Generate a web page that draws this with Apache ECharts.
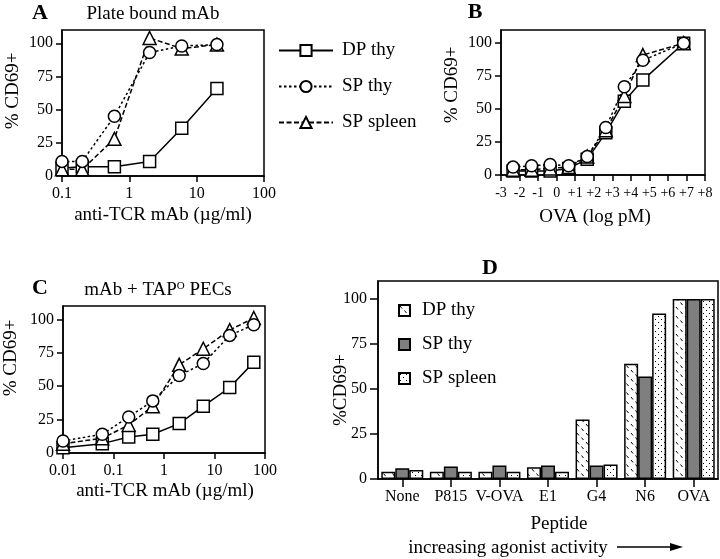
<!DOCTYPE html>
<html>
<head>
<meta charset="utf-8">
<script src="https://cdn.jsdelivr.net/npm/echarts@6/dist/echarts.min.js"></script>
<style>
html, body { margin: 0; padding: 0; background: #fff; }
#chart { width: 720px; height: 559px; }
</style>
</head>
<body>
<div id="chart"></div>
<script>
// A: plate bound mAb (ug/ml, log axis)
var aDose = [0.1, 0.2, 0.6, 2, 6, 20];
var aDPthy = [6, 7, 7, 11, 36, 66];
var aSPthy = [11, 11, 45, 93, 98, 99];
var aSPspleen = [5, 5, 28, 104, 96, 99];

// B: OVA (log pM)
var bLogOva = [-2.35, -1.35, -0.35, 0.65, 1.65, 2.65, 3.65, 4.65, 6.85];
var bDPthy = [3, 3, 3, 5, 12, 32, 56, 72, 100];
var bSPthy = [6, 7, 8, 7, 14, 36, 67, 87, 100];
var bSPspleen = [4, 4, 5, 6, 14, 34, 60, 91, 100];

// C: mAb + TAPo PECs
var cDose = [0.01, 0.06, 0.2, 0.6, 2, 6, 20, 60];
var cDPthy = [4, 7, 12, 14, 22, 35, 49, 68];
var cSPthy = [9, 14, 27, 39, 58, 67, 88, 96];
var cSPspleen = [7, 11, 21, 35, 66, 78, 92, 101];

// D: peptides
var peptides = ['None', 'P815', 'V-OVA', 'E1', 'G4', 'N6', 'OVA'];
var dDPthy = [4, 4, 4, 6.5, 33, 64, 100];
var dSPthy = [6, 7, 7.5, 7.5, 7.5, 57, 100];
var dSPspleen = [5, 4, 4, 4, 8, 92, 100];

var yTicks = [0, 25, 50, 75, 100];
var bTicks = [-3, -2, -1, 0, 1, 2, 3, 4, 5, 6, 7, 8];

var FONT = 'Liberation Serif';

function makePattern(kind) {
	var c = document.createElement('canvas');
	var ctx = c.getContext('2d');
	if (kind == 'hatch') {
		c.width = 9; c.height = 9;
		ctx.fillStyle = '#fff';
		ctx.fillRect(0, 0, 9, 9);
		ctx.strokeStyle = '#000';
		ctx.lineWidth = 1;
		ctx.beginPath();
		ctx.moveTo(1, 1); ctx.lineTo(3, 3.5);
		ctx.moveTo(5.5, 5.5); ctx.lineTo(7.5, 8);
		ctx.stroke();
	} else {
		c.width = 6; c.height = 6;
		ctx.fillStyle = '#fff';
		ctx.fillRect(0, 0, 6, 6);
		ctx.fillStyle = '#000';
		ctx.fillRect(1, 1, 1, 1);
		ctx.fillRect(4, 4, 1, 1);
	}
	return { image: c, repeat: 'repeat' };
}

function pairs(xs, ys) {
	var out = [];
	for (var i = 0; i < xs.length; i++) {
		out.push([xs[i], ys[i]]);
	}
	return out;
}

function lineSeries(name, xs, ys, symbol, dash, idx) {
	return {
		name: name,
		type: 'line',
		xAxisIndex: idx,
		yAxisIndex: idx,
		data: pairs(xs, ys),
		symbol: symbol,
		symbolSize: symbol == 'triangle' ? 13 : 12,
		showAllSymbol: true,
		lineStyle: { color: '#000', width: 1.5, type: dash },
		itemStyle: { color: '#fff', borderColor: '#000', borderWidth: 1.5 },
		emphasis: { disabled: true },
		animation: false
	};
}

function barSeries(name, values, fill) {
	return {
		name: name,
		type: 'bar',
		xAxisIndex: 3,
		yAxisIndex: 3,
		data: values,
		barWidth: 14,
		barGap: '0%',
		itemStyle: { color: fill, borderColor: '#000', borderWidth: 1.5 },
		emphasis: { disabled: true },
		animation: false
	};
}

function yAxis(idx, tickLen, margin) {
	return {
		type: 'value',
		gridIndex: idx,
		min: 0,
		max: 110,
		interval: 25,
		axisLine: { show: true, onZero: false, lineStyle: { color: '#000', width: 1.5 } },
		axisTick: { show: true, length: tickLen, customValues: yTicks, lineStyle: { color: '#000', width: 1.5 } },
		axisLabel: { customValues: yTicks, margin: margin, color: '#000', fontFamily: FONT, fontSize: 16 },
		splitLine: { show: false }
	};
}

function logAxis(idx, min) {
	return {
		type: 'log',
		gridIndex: idx,
		logBase: 10,
		min: min,
		max: 100,
		axisLine: { show: true, onZero: false, lineStyle: { color: '#000', width: 1.5 } },
		axisTick: { show: true, length: 6, lineStyle: { color: '#000', width: 1.5 } },
		axisLabel: { margin: 10, color: '#000', fontFamily: FONT, fontSize: 16, formatter: function (v) { return String(+v.toPrecision(6)); } },
		splitLine: { show: false },
		minorTick: { show: false }
	};
}

function txt(text, x, y, size, opts) {
	opts = opts || {};
	return {
		type: 'text',
		x: x,
		y: y,
		rotation: opts.rotate ? Math.PI / 2 : 0,
		style: {
			text: text,
			fill: '#000',
			font: (opts.bold ? 'bold ' : '') + size + 'px "' + FONT + '"',
			align: 'center',
			verticalAlign: 'middle',
			rich: opts.rich
		}
	};
}

var gridStyle = { show: true, borderColor: '#000', borderWidth: 1.5, backgroundColor: 'transparent' };

var myChart = echarts.init(document.getElementById('chart'), null, { renderer: 'canvas' });

var option = {
	animation: false,
	grid: [
		Object.assign({ left: 62, top: 30, width: 202, height: 146 }, gridStyle),
		Object.assign({ left: 501, top: 30, width: 204, height: 145 }, gridStyle),
		Object.assign({ left: 63, top: 306, width: 202, height: 147 }, gridStyle),
		Object.assign({ left: 378, top: 281, width: 340, height: 198 }, gridStyle)
	],
	xAxis: [
		logAxis(0, 0.1),
		{
			type: 'value',
			gridIndex: 1,
			min: -3,
			max: 8,
			interval: 1,
			axisLine: { show: true, onZero: false, lineStyle: { color: '#000', width: 1.5 } },
			axisTick: { show: true, length: 6, customValues: bTicks, lineStyle: { color: '#000', width: 1.5 } },
			axisLabel: {
				customValues: bTicks, margin: 11, color: '#000', fontFamily: FONT, fontSize: 14,
				formatter: function (v) { return v > 0 ? '+' + v : String(v); }
			},
			splitLine: { show: false }
		},
		logAxis(2, 0.01),
		{
			type: 'category',
			gridIndex: 3,
			data: peptides,
			axisLine: { show: true, onZero: false, lineStyle: { color: '#000', width: 1.5 } },
			axisTick: { show: true, alignWithLabel: true, length: 8, lineStyle: { color: '#000', width: 1.5 } },
			axisLabel: { interval: 0, margin: 10, color: '#000', fontFamily: FONT, fontSize: 16 }
		}
	],
	yAxis: [yAxis(0, 6, 9), yAxis(1, 6, 9), yAxis(2, 6, 9), yAxis(3, 8, 11)],
	legend: [
		{
			data: ['DP thy', 'SP thy', 'SP spleen'],
			orient: 'vertical',
			left: 273,
			top: 36,
			itemWidth: 54,
			itemHeight: 14,
			itemGap: 17,
			selectedMode: false,
			textStyle: { color: '#000', fontFamily: FONT, fontSize: 19, padding: [0, 0, 0, 4] }
		},
		{
			data: ['D DP thy', 'D SP thy', 'D SP spleen'],
			orient: 'vertical',
			left: 393,
			top: 296,
			icon: 'rect',
			itemWidth: 11,
			itemHeight: 11,
			itemGap: 15,
			selectedMode: false,
			formatter: function (name) { return name.substring(2); },
			textStyle: { color: '#000', fontFamily: FONT, fontSize: 19, padding: [0, 0, 0, 7] }
		}
	],
	series: [
		lineSeries('DP thy', aDose, aDPthy, 'rect', 'solid', 0),
		lineSeries('SP spleen', aDose, aSPspleen, 'triangle', [5, 2.5], 0),
		lineSeries('SP thy', aDose, aSPthy, 'circle', [2.5, 2.5], 0),
		lineSeries('DP thy', bLogOva, bDPthy, 'rect', 'solid', 1),
		lineSeries('SP spleen', bLogOva, bSPspleen, 'triangle', [5, 2.5], 1),
		lineSeries('SP thy', bLogOva, bSPthy, 'circle', [2.5, 2.5], 1),
		lineSeries('DP thy', cDose, cDPthy, 'rect', 'solid', 2),
		lineSeries('SP spleen', cDose, cSPspleen, 'triangle', [5, 2.5], 2),
		lineSeries('SP thy', cDose, cSPthy, 'circle', [2.5, 2.5], 2),
		barSeries('D DP thy', dDPthy, makePattern('hatch')),
		barSeries('D SP thy', dSPthy, '#7f7f7f'),
		barSeries('D SP spleen', dSPspleen, makePattern('dots'))
	],
	graphic: [
		txt('A', 40, 13, 22, { bold: true }),
		txt('Plate bound mAb', 153, 14, 19),
		txt('B', 475, 12, 22, { bold: true }),
		txt('C', 40, 288, 22, { bold: true }),
		txt('{a|mAb + TAP}{s|O}{a| PECs}', 158, 290, 19, {
			rich: {
				a: { fontFamily: FONT, fontSize: 19, fill: '#000' },
				s: { fontFamily: FONT, fontSize: 11, fill: '#000', verticalAlign: 'top', padding: [0, 0, 8, 0] }
			}
		}),
		txt('D', 490, 268, 22, { bold: true }),
		txt('% CD69+', 13, 91, 19, { rotate: true }),
		txt('anti-TCR mAb (\u00b5g/ml)', 163, 215, 19),
		txt('% CD69+', 452, 85, 19, { rotate: true }),
		txt('OVA (log pM)', 595, 217, 19),
		txt('% CD69+', 11, 358, 19, { rotate: true }),
		txt('anti-TCR mAb (\u00b5g/ml)', 165, 491, 19),
		txt('%CD69+', 341, 390, 19, { rotate: true }),
		txt('Peptide', 559, 524, 19),
		txt('increasing agonist activity', 508, 548, 19),
		{
			type: 'line',
			shape: { x1: 617, y1: 547, x2: 672, y2: 547 },
			style: { stroke: '#000', lineWidth: 1.5 }
		},
		{
			type: 'polygon',
			shape: { points: [[670, 543], [683, 547], [670, 551]] },
			style: { fill: '#000' }
		}
	]
};
myChart.setOption(option);
</script>
</body>
</html>
